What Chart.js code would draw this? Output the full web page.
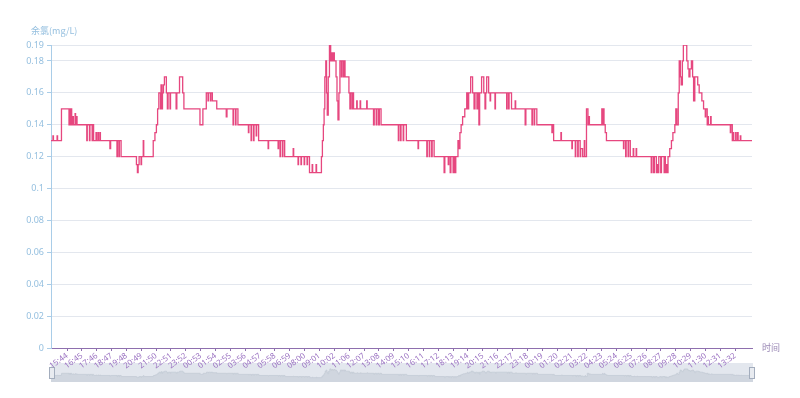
<!DOCTYPE html>
<html>
<head>
<meta charset="utf-8">
<script src="https://cdn.jsdelivr.net/npm/chart.js@4.4.1/dist/chart.umd.min.js"></script>
<style>
html, body { margin: 0; padding: 0; background: #fff; }
#wrap { position: relative; width: 800px; height: 398px; }
#main { position: absolute; left: 0; top: 0; }
#zoomBox { position: absolute; left: 51px; top: 363px; width: 702px; height: 19px; background: #e3e7ee; }
#zoomBar { position: absolute; left: 0; top: 0; }
.handle { position: absolute; top: 367px; width: 4px; height: 10px; border: 1px solid #a3adbd; background: #e8ebf0; }
</style>
</head>
<body>
<div id="wrap">
  <div id="zoomBox"><canvas id="zoomBar" width="702" height="19"></canvas></div>
  <div class="handle" style="left:49px"></div>
  <div class="handle" style="left:749px"></div>
  <canvas id="main" width="800" height="398"></canvas>
</div>
<script>
// axis names
const yName = "余氯(mg/L)";
const xName = "时间";

// sample index where the chlorine value changes, and the new value (mg/L)
const sampleIdx = [
  0, 8, 10, 25, 27, 43, 74, 76, 80, 82, 85, 90, 92, 99, 101, 105, 107,
  147, 149, 158, 160, 169, 171, 175, 185, 187, 193, 195, 201, 203,
  242, 245, 271, 273, 279, 281, 288, 351, 355, 358, 362, 370, 372, 379, 381,
  420, 427, 433, 438, 443, 450, 452, 456, 458, 462, 466, 474, 478, 481, 489, 491,
  514, 517, 528, 541, 546, 612, 624, 638, 645, 647, 655, 657, 663, 681,
  720, 723, 748, 750, 758, 760, 768, 811, 813, 822, 824, 832, 834, 843, 845, 853,
  892, 894, 933, 935, 941, 943, 951, 953, 960, 995, 997,
  1015, 1017, 1027, 1029, 1040, 1042, 1052, 1054, 1062, 1073, 1075, 1089, 1091,
  1111, 1115, 1119, 1122, 1125, 1129, 1132, 1135, 1139, 1144, 1149, 1153, 1156, 1161, 1164,
  1171, 1175, 1179, 1183, 1187, 1193, 1195, 1201, 1203, 1208, 1224, 1228, 1230, 1236, 1238, 1243,
  1256, 1258, 1270, 1272, 1297, 1299, 1325, 1328, 1336, 1339, 1346, 1349, 1356,
  1427, 1429, 1436, 1438, 1447, 1449, 1460, 1508, 1510,
  1544, 1546, 1554, 1556, 1564, 1566, 1574,
  1615, 1618, 1632, 1634, 1640, 1643, 1652, 1655, 1660, 1663, 1672, 1676, 1680, 1685, 1691,
  1700, 1708, 1711, 1716, 1724, 1732, 1738, 1742, 1750, 1754, 1758, 1761, 1769, 1778,
  1783, 1786, 1790, 1798, 1804, 1806, 1824, 1826, 1872, 1874, 1880, 1882, 1892, 1907, 1909,
  1948, 1951, 1976, 1978, 1985, 1987, 1996, 2058, 2060, 2065, 2095, 2097,
  2140, 2142, 2154, 2156, 2164, 2166, 2174, 2176, 2184, 2191, 2193, 2200, 2206, 2210, 2212,
  2263, 2265, 2270, 2272, 2277, 2282, 2352, 2354, 2361, 2363, 2371, 2373, 2380,
  2392, 2394, 2404, 2406, 2466, 2469, 2476, 2479, 2487, 2490, 2493, 2497, 2505, 2508,
  2519, 2522, 2524, 2527, 2531, 2535, 2542, 2549, 2555, 2563, 2567, 2571, 2577, 2581, 2586, 2589,
  2594, 2598, 2612, 2617, 2621, 2625, 2631, 2636, 2640, 2645, 2657, 2663, 2674, 2681,
  2688, 2690, 2696, 2699, 2701, 2710, 2712, 2791, 2793, 2799, 2803, 2805, 2813, 2815,
  2821, 2823, 2832, 2834, 2880
];
const chlorine = [
  0.13, 0.133, 0.13, 0.133, 0.13, 0.15, 0.14, 0.15, 0.14, 0.15, 0.14, 0.145, 0.14, 0.147, 0.14, 0.145, 0.14,
  0.13, 0.14, 0.13, 0.14, 0.13, 0.14, 0.13, 0.135, 0.13, 0.135, 0.13, 0.135, 0.13,
  0.125, 0.13, 0.12, 0.13, 0.12, 0.13, 0.12, 0.115, 0.11, 0.115, 0.12, 0.115, 0.12, 0.13, 0.12,
  0.13, 0.135, 0.14, 0.15, 0.16, 0.15, 0.165, 0.15, 0.16, 0.165, 0.17, 0.16, 0.15, 0.16, 0.15, 0.16,
  0.15, 0.16, 0.17, 0.16, 0.15, 0.14, 0.15, 0.16, 0.155, 0.16, 0.155, 0.16, 0.155, 0.15,
  0.145, 0.15, 0.14, 0.15, 0.14, 0.15, 0.14, 0.135, 0.14, 0.13, 0.14, 0.13, 0.14, 0.133, 0.14, 0.13,
  0.125, 0.13, 0.125, 0.13, 0.12, 0.13, 0.12, 0.13, 0.12, 0.125, 0.12,
  0.115, 0.12, 0.115, 0.12, 0.115, 0.12, 0.115, 0.12, 0.11, 0.115, 0.11, 0.115, 0.11,
  0.12, 0.13, 0.14, 0.15, 0.17, 0.18, 0.16, 0.146, 0.17, 0.19, 0.18, 0.185, 0.18, 0.185, 0.18,
  0.17, 0.155, 0.143, 0.16, 0.18, 0.17, 0.18, 0.17, 0.18, 0.17, 0.16, 0.15, 0.16, 0.15, 0.16, 0.15,
  0.155, 0.15, 0.155, 0.15, 0.155, 0.15, 0.14, 0.15, 0.14, 0.15, 0.14, 0.15, 0.14,
  0.13, 0.14, 0.13, 0.14, 0.13, 0.14, 0.13, 0.125, 0.13,
  0.12, 0.13, 0.12, 0.13, 0.12, 0.13, 0.12,
  0.11, 0.12, 0.115, 0.12, 0.11, 0.12, 0.11, 0.12, 0.11, 0.12, 0.13, 0.125, 0.135, 0.14, 0.145,
  0.15, 0.16, 0.15, 0.16, 0.17, 0.16, 0.15, 0.16, 0.15, 0.16, 0.14, 0.16, 0.17, 0.16,
  0.15, 0.16, 0.17, 0.16, 0.155, 0.16, 0.15, 0.16, 0.15, 0.16, 0.15, 0.16, 0.15, 0.155, 0.15,
  0.14, 0.15, 0.14, 0.15, 0.14, 0.15, 0.14, 0.135, 0.14, 0.13, 0.135, 0.13,
  0.125, 0.13, 0.12, 0.13, 0.12, 0.13, 0.12, 0.125, 0.12, 0.13, 0.12, 0.15, 0.14, 0.145, 0.14,
  0.15, 0.14, 0.15, 0.14, 0.135, 0.13, 0.125, 0.13, 0.12, 0.13, 0.12, 0.13, 0.12,
  0.125, 0.12, 0.125, 0.12, 0.11, 0.12, 0.11, 0.12, 0.11, 0.115, 0.11, 0.12, 0.11, 0.12,
  0.11, 0.12, 0.11, 0.115, 0.11, 0.12, 0.125, 0.13, 0.135, 0.14, 0.15, 0.14, 0.16, 0.18, 0.17, 0.165,
  0.18, 0.19, 0.18, 0.175, 0.17, 0.175, 0.18, 0.17, 0.155, 0.17, 0.165, 0.16, 0.155, 0.15,
  0.145, 0.15, 0.14, 0.145, 0.14, 0.145, 0.14, 0.135, 0.14, 0.13, 0.135, 0.13, 0.135, 0.13,
  0.135, 0.13, 0.133, 0.13, 0.13
];

// category axis: a label every 61 samples, first one at sample 66
const timeLabels = [
  "15:44", "16:45", "17:46", "18:47", "19:48", "20:49", "21:50", "22:51", "23:52", "00:53",
  "01:54", "02:55", "03:56", "04:57", "05:58", "06:59", "08:00", "09:01", "10:02", "11:06",
  "12:07", "13:08", "14:09", "15:10", "16:11", "17:12", "18:13", "19:14", "20:15", "21:16",
  "22:17", "23:18", "00:19", "01:20", "02:21", "03:22", "04:23", "05:24", "06:25", "07:26",
  "08:27", "09:28", "10:29", "11:30", "12:31", "13:32"
];
const firstLabelIdx = 66;
const labelStep = 61;
const lastIdx = 2880;

const yTicks = [0, 0.02, 0.04, 0.06, 0.08, 0.1, 0.12, 0.14, 0.16, 0.18, 0.19];

const points = sampleIdx.map((x, i) => ({ x: x, y: chlorine[i] }));

const axisNames = {
  id: "axisNames",
  afterDraw(chart) {
    const ctx = chart.ctx;
    const area = chart.chartArea;
    ctx.save();
    ctx.font = '9px "Noto Sans CJK SC", sans-serif';
    ctx.textBaseline = "middle";
    ctx.textAlign = "left";
    ctx.fillStyle = "#94bfdf";
    ctx.fillText(yName, 31, 31);
    ctx.fillStyle = "#9a88b5";
    ctx.fillText(xName, area.right + 10, area.bottom);
    ctx.restore();
  }
};

new Chart(document.getElementById("main"), {
  type: "line",
  data: {
    datasets: [{
      data: points,
      stepped: true,
      borderColor: "#e6477f",
      borderWidth: 1.3,
      pointRadius: 0,
      fill: false
    }]
  },
  options: {
    responsive: false,
    animation: false,
    layout: { padding: { left: 0, right: 48, top: 45, bottom: 10 } },
    plugins: { legend: { display: false }, tooltip: { enabled: false } },
    scales: {
      x: {
        type: "linear",
        min: 0,
        max: lastIdx,
        afterFit: (s) => { s.height = 40; },
        afterBuildTicks: (s) => {
          s.ticks = timeLabels.map((t, i) => ({ value: firstLabelIdx + i * labelStep }));
        },
        ticks: {
          autoSkip: false,
          minRotation: 36,
          maxRotation: 36,
          padding: 0,
          color: "#9b72c2",
          font: { size: 8, family: "Noto Sans, sans-serif" },
          callback: (v, i) => timeLabels[i]
        },
        grid: { drawOnChartArea: false, tickLength: 3, color: "#8e6fae" },
        border: { color: "#8e6fae", width: 1 }
      },
      y: {
        min: 0,
        max: 0.19,
        afterFit: (s) => { s.width = 51; },
        afterBuildTicks: (s) => {
          s.ticks = yTicks.map((v) => ({ value: v }));
        },
        ticks: {
          color: "#94bfdf",
          padding: 3,
          font: { size: 9, family: "Noto Sans, sans-serif" },
          callback: (v) => String(+v.toFixed(2))
        },
        grid: { color: "#e3e7ee", tickColor: "#a9cde8", tickLength: 4 },
        border: { color: "#a9cde8", width: 1 }
      }
    }
  },
  plugins: [axisNames]
});

// data shadow inside the zoom slider
new Chart(document.getElementById("zoomBar"), {
  type: "line",
  data: {
    datasets: [{
      data: points,
      stepped: true,
      borderColor: "#c4cbd5",
      borderWidth: 0.8,
      backgroundColor: "#d0d6df",
      pointRadius: 0,
      fill: "start"
    }]
  },
  options: {
    responsive: false,
    animation: false,
    layout: { padding: 0 },
    plugins: { legend: { display: false }, tooltip: { enabled: false } },
    scales: {
      x: { type: "linear", min: 0, max: lastIdx, display: false },
      y: { min: 0.07, max: 0.245, display: false }
    }
  }
});
</script>
</body>
</html>
